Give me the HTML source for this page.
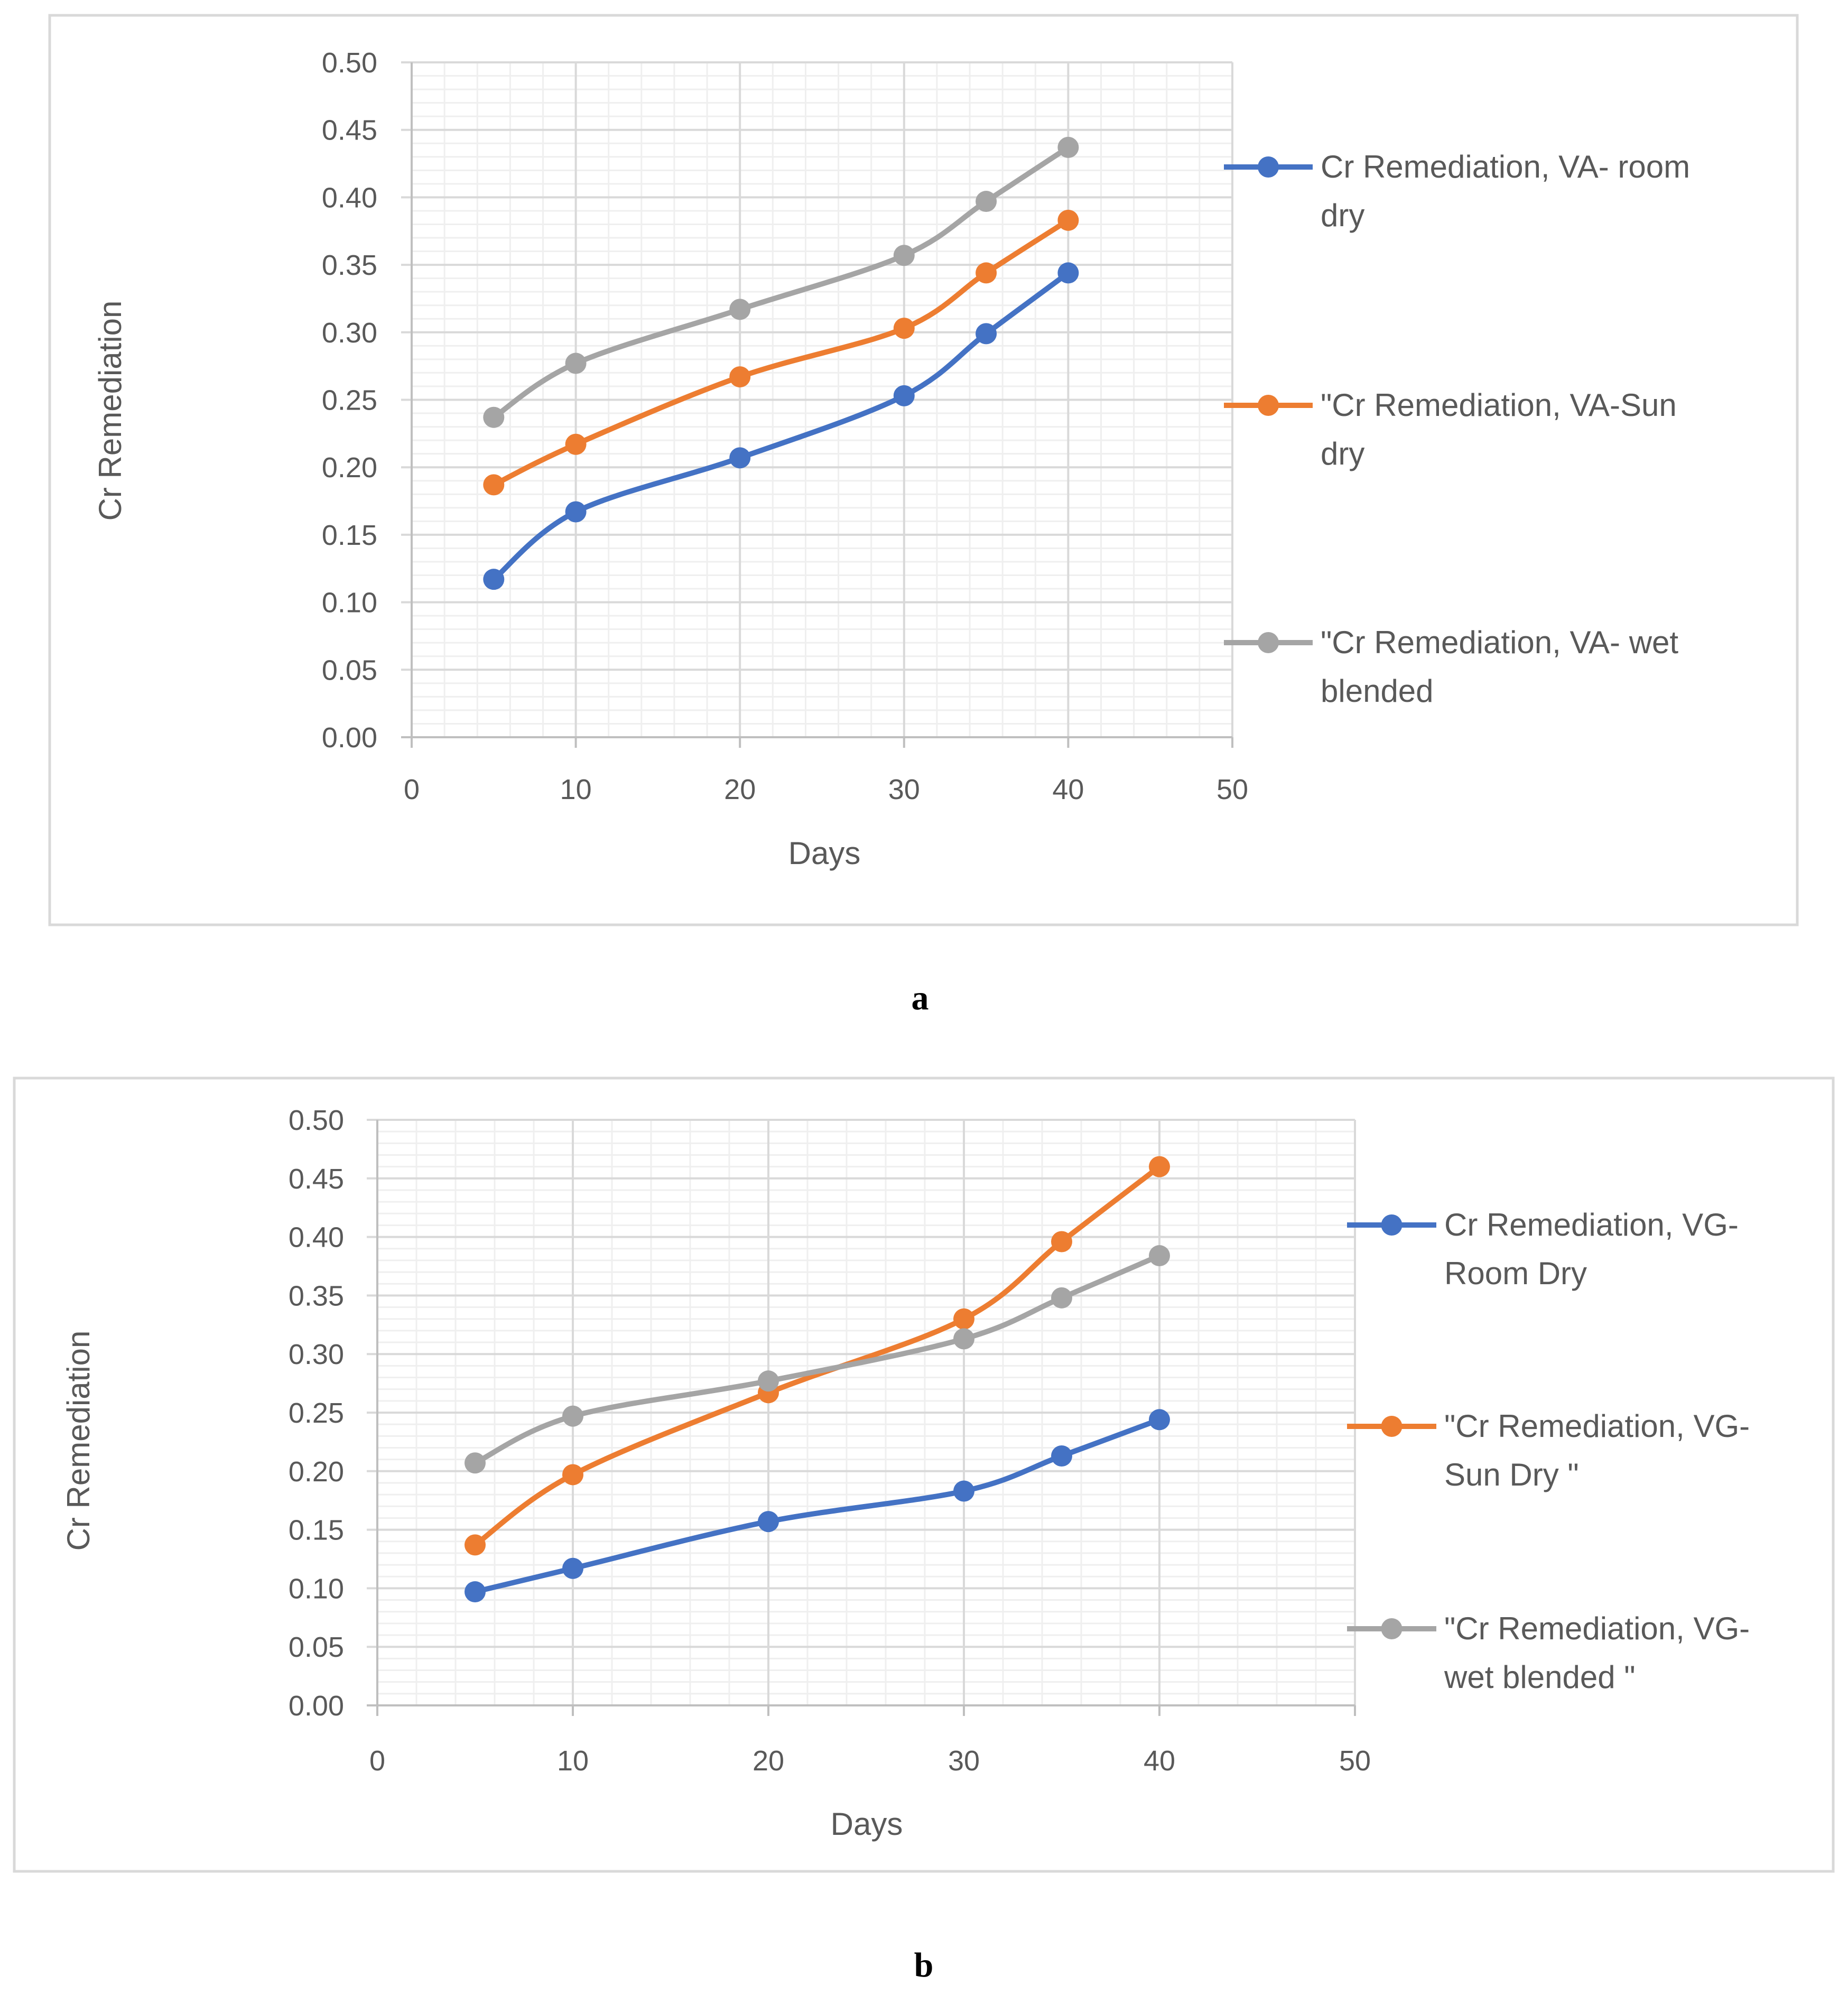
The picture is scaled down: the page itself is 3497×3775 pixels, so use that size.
<!DOCTYPE html>
<html><head><meta charset="utf-8"><style>
html,body{margin:0;padding:0;background:#fff;}
svg{display:block;}
text{font-family:"Liberation Sans",sans-serif;fill:#595959;}
</style></head><body>
<svg id="s" width="3497" height="3775" viewBox="0 0 3497 3775"></svg>
<script>
const days = [5,10,20,30,35,40];
const xTicks = [0,10,20,30,40,50];
const yTicks = [0,0.05,0.10,0.15,0.20,0.25,0.30,0.35,0.40,0.45,0.50];
const aRoom = [0.117,0.167,0.207,0.253,0.299,0.344];
const aSun  = [0.187,0.217,0.267,0.303,0.344,0.383];
const aWet  = [0.237,0.277,0.317,0.357,0.397,0.437];
const bRoom = [0.097,0.117,0.157,0.183,0.213,0.244];
const bSun  = [0.137,0.197,0.267,0.330,0.396,0.460];
const bWet  = [0.207,0.247,0.277,0.313,0.348,0.384];
const aNames = [["Cr Remediation, VA- room","dry"],["\"Cr Remediation, VA-Sun","dry"],["\"Cr Remediation, VA- wet","blended"]];
const bNames = [["Cr Remediation, VG-","Room Dry"],["\"Cr Remediation, VG-","Sun Dry \""],["\"Cr Remediation, VG-","wet blended \""]];
const colors = ["#4472C4","#ED7D31","#A5A5A5"];

const NS="http://www.w3.org/2000/svg";
const svg=document.getElementById('s');
function mk(tag,attrs,parent){const e=document.createElementNS(NS,tag);for(const k in attrs)e.setAttribute(k,attrs[k]);(parent||svg).appendChild(e);return e;}

function chart(cfg,series,names,tag){
  const g=mk('g',{});
  
  
  const fr=mk('rect',{x:cfg.box[0],y:cfg.box[1],width:cfg.box[2]-cfg.box[0],height:cfg.box[3]-cfg.box[1],fill:'#fff',stroke:'#d9d9d9','stroke-width':5},g);
  
  
  const X=v=>cfg.x0+(cfg.x1-cfg.x0)*v/50;
  const Y=v=>cfg.y0+(cfg.y1-cfg.y0)*v/0.5;
  for(let i=1;i<50;i++){ if(i%2) continue; if(i%10===0) continue;
    mk('line',{x1:X(i),x2:X(i),y1:Y(0),y2:Y(0.5),stroke:'#efefef','stroke-width':3},g);}
  for(let i=1;i<50;i++){ if(i%5===0) continue;
    mk('line',{x1:X(0),x2:X(50),y1:Y(i*0.01),y2:Y(i*0.01),stroke:'#efefef','stroke-width':3},g);}
  xTicks.forEach(t=>{ if(t===0) return;
    const l=mk('line',{x1:X(t),x2:X(t),y1:Y(0),y2:Y(0.5),stroke:'#d9d9d9','stroke-width':4},g);
    
    });
  yTicks.forEach(t=>{ if(t===0) return;
    const l=mk('line',{x1:X(0)-20,x2:X(50),y1:Y(t),y2:Y(t),stroke:'#d9d9d9','stroke-width':4},g);
    
    });
  mk('line',{x1:X(0),x2:X(0),y1:Y(0),y2:Y(0.5),stroke:'#bfbfbf','stroke-width':4},g);
  mk('line',{x1:X(0)-20,x2:X(50),y1:Y(0),y2:Y(0),stroke:'#bfbfbf','stroke-width':4},g);
  xTicks.forEach(t=>{mk('line',{x1:X(t),x2:X(t),y1:Y(0),y2:Y(0)+20,stroke:'#bfbfbf','stroke-width':4},g);
    const tx=mk('text',{x:X(t),y:cfg.xly,'font-size':54,'text-anchor':'middle'},g);tx.textContent=t;
    
    });
  yTicks.forEach(t=>{const tx=mk('text',{x:cfg.ylx,y:Y(t)+19,'font-size':54,'text-anchor':'end'},g);tx.textContent=t.toFixed(2);
    
    });
  const yt=mk('text',{x:cfg.yt[0],y:cfg.yt[1],'font-size':60,'text-anchor':'middle',transform:`rotate(-90 ${cfg.yt[0]} ${cfg.yt[1]})`},g);
  yt.textContent='Cr Remediation';
  
  
  const xt=mk('text',{x:cfg.xt[0],y:cfg.xt[1],'font-size':60,'text-anchor':'middle'},g);
  xt.textContent='Days';
  
  
  series.forEach((vals,si)=>{
    const p=days.map((d,i)=>[X(d),Y(vals[i])]);
    let d='M'+p[0][0]+','+p[0][1];
    for(let i=0;i<p.length-1;i++){
      const p0=p[i-1]||p[i],p1=p[i],p2=p[i+1],p3=p[i+2]||p2;
      const c1=[p1[0]+(p2[0]-p0[0])/6,p1[1]+(p2[1]-p0[1])/6];
      const c2=[p2[0]-(p3[0]-p1[0])/6,p2[1]-(p3[1]-p1[1])/6];
      d+=` C${c1[0]},${c1[1]} ${c2[0]},${c2[1]} ${p2[0]},${p2[1]}`;
    }
    const path=mk('path',{d:d,fill:'none',stroke:colors[si],'stroke-width':10},g);
    
    
    p.forEach(pt=>{const c=mk('circle',{cx:pt[0],cy:pt[1],r:20,fill:colors[si]},g);
      
      });
    const ly=cfg.leg[si];
    const lg=mk('g',{},g);
    
    
    mk('line',{x1:cfg.lx0,x2:cfg.lx1,y1:ly,y2:ly,stroke:colors[si],'stroke-width':10},lg);
    mk('circle',{cx:(cfg.lx0+cfg.lx1)/2,cy:ly,r:20,fill:colors[si]},lg);
    const t1=mk('text',{x:cfg.ltx,y:ly+20,'font-size':60},lg);t1.textContent=names[si][0];
    const t2=mk('text',{x:cfg.ltx,y:ly+20+92,'font-size':60},lg);t2.textContent=names[si][1];
  });
  const lab=mk('text',{x:cfg.lab[0],y:cfg.lab[1],'font-size':66,'text-anchor':'middle','font-weight':'bold',style:'font-family:"Liberation Serif",serif;fill:#000'},svg);
  lab.textContent=tag;
  
  
}
chart({box:[94,29,3401,1750],x0:779,x1:2332,y0:1395,y1:118,xly:1512,ylx:714,yt:[229,777],xt:[1560,1635],
  leg:[316,767,1216],lx0:2316,lx1:2484,ltx:2499,lab:[1741,1910]},[aRoom,aSun,aWet],aNames,'a');
chart({box:[27,2040,3469,3541],x0:714,x1:2564,y0:3227,y1:2119,xly:3350,ylx:651,yt:[169,2726],xt:[1640,3472],
  leg:[2318,2699,3082],lx0:2549,lx1:2718,ltx:2733,lab:[1748,3740]},[bRoom,bSun,bWet],bNames,'b');
</script>
</body></html>
